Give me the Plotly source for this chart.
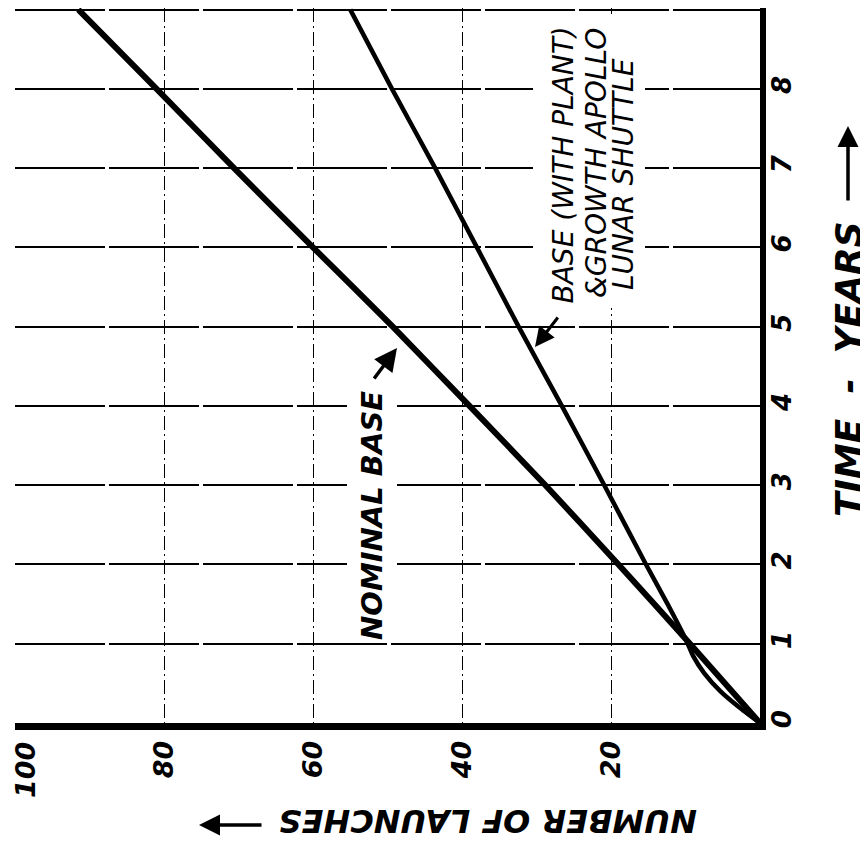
import plotly.graph_objects as go

# ---- data ----
years = [0, 1, 2, 3, 4, 5, 6, 7, 8, 9]
nominal_launches = [0, 9.4, 19, 28.8, 39, 49.3, 60, 70.6, 81, 91.5]

apollo_years = [0, 0.2, 0.4, 0.63, 0.85, 1.0, 1.14, 1.5, 2, 3, 4, 5, 6, 7, 8, 9]
apollo_launches = [0, 2.8, 5.3, 7.5, 9.0, 9.7, 10.4, 12.4, 15.3, 20.9, 26.6, 32.4, 38, 43.6, 49.4, 55]

launch_ticks = [20, 40, 60, 80]
launch_tick_labels = ["20", "40", "60", "80"]
edge_launch_label = "100"
year_ticks = [0, 1, 2, 3, 4, 5, 6, 7, 8, 9]
year_tick_labels = ["0", "1", "2", "3", "4", "5", "6", "7", "8", "9"]

FONT = "DejaVu Sans"

# page-pixel geometry of the plotting area (browser body margin is 8px)
W, H = 860, 839
L_PX, R_PX, T_PX, B_PX = 15, 760, 8, 723
X_RANGE = [100, 0]
Y_RANGE = [0, 9.02]
PPX = (R_PX - L_PX) / (X_RANGE[0] - X_RANGE[1])
PPY = (B_PX - T_PX) / (Y_RANGE[1] - Y_RANGE[0])


def dx(px):
    return (R_PX - px) / PPX


def dy(py):
    return (B_PX - py) / PPY


def pxp(px):
    return (px - L_PX) / (R_PX - L_PX)


def pyp(py):
    return (B_PX - py) / (B_PX - T_PX)


fig = go.Figure()

fig.add_trace(go.Scatter(
    x=nominal_launches, y=years, mode="lines",
    line=dict(color="black", width=6, shape="spline", smoothing=0.4),
    name="Nominal base", showlegend=False,
))
fig.add_trace(go.Scatter(
    x=apollo_launches, y=apollo_years, mode="lines",
    line=dict(color="black", width=4.5, shape="spline", smoothing=0.5),
    name="Base (with plant) & growth Apollo lunar shuttle", showlegend=False,
))

# white patches behind the hand lettering (gridlines are interrupted there)
fig.add_shape(type="rect", xref="x", yref="y", x0=dx(533), x1=dx(645), y0=dy(308), y1=dy(14),
              fillcolor="white", line=dict(width=0), layer="between")
fig.add_shape(type="rect", xref="x", yref="y", x0=dx(347), x1=dx(397), y0=dy(640), y1=dy(385),
              fillcolor="white", line=dict(width=0), layer="between")

annotations = []

# NOMINAL BASE label + arrow
annotations.append(dict(
    x=pxp(372), y=pyp(516), xref="paper", yref="paper", xanchor="center", yanchor="middle",
    text="<b><i>NOMINAL BASE</i></b>",
    textangle=-90, showarrow=False, font=dict(family=FONT, size=29, color="black"),
))
annotations.append(dict(
    x=dx(397), y=dy(348), xref="x", yref="y", ax=dx(373), ay=dy(380), axref="x", ayref="y",
    text="", showarrow=True, arrowhead=2, arrowsize=1.3, arrowwidth=3.5, arrowcolor="black",
))

# Apollo label (three hand-lettered lines) + arrow
apollo_lines = [
    ("BASE (WITH PLANT)", 563, 306),
    ("&GROWTH APOLLO", 596, 300),
    ("LUNAR SHUTTLE", 623, 292),
]
for txt, px, pbottom in apollo_lines:
    annotations.append(dict(
        x=pxp(px), y=pyp(pbottom), xref="paper", yref="paper",
        text="<i>" + txt + "</i>", textangle=-90, showarrow=False,
        xanchor="center", yanchor="bottom",
        font=dict(family=FONT, size=28, color="black"),
    ))
annotations.append(dict(
    x=dx(535), y=dy(347), xref="x", yref="y", ax=dx(559), ay=dy(316), axref="x", ayref="y",
    text="", showarrow=True, arrowhead=2, arrowsize=1.3, arrowwidth=3, arrowcolor="black",
))

# tick label at the left edge of the launches axis
annotations.append(dict(
    x=pxp(25), y=pyp(740), xref="paper", yref="paper", text="<b><i>" + edge_launch_label + "</i></b>",
    textangle=-90, showarrow=False, xanchor="center", yanchor="top",
    font=dict(family=FONT, size=27, color="black"),
))

# axis titles (hand lettered, rotated with the page)
annotations.append(dict(
    x=pxp(848), y=pyp(369), xref="paper", yref="paper", xanchor="center", yanchor="middle",
    text="<b><i>TIME\u00a0\u00a0-\u00a0\u00a0YEARS</i></b>", textangle=-90, showarrow=False,
    font=dict(family=FONT, size=36, color="black"),
))
annotations.append(dict(
    x=pxp(848), y=pyp(126), xref="paper", yref="paper", ax=0, ay=76,
    text="", showarrow=True, arrowhead=2, arrowsize=1.2, arrowwidth=3.5, arrowcolor="black",
))
annotations.append(dict(
    x=pxp(488), y=pyp(821), xref="paper", yref="paper", xanchor="center", yanchor="middle",
    text="<b><i>NUMBER OF LAUNCHES</i></b>", textangle=180, showarrow=False,
    font=dict(family=FONT, size=32, color="black"),
))
annotations.append(dict(
    x=pxp(199), y=pyp(825), xref="paper", yref="paper", ax=64, ay=0,
    text="", showarrow=True, arrowhead=2, arrowsize=1.2, arrowwidth=3.5, arrowcolor="black",
))

fig.update_layout(
    width=W, height=H,
    margin=dict(l=L_PX - 8, r=(W + 8) - R_PX, t=T_PX - 8, b=(H + 8) - B_PX, autoexpand=False),
    paper_bgcolor="white", plot_bgcolor="white",
    annotations=annotations,
    showlegend=False,
)

fig.update_xaxes(
    range=X_RANGE, tickmode="array", tickvals=launch_ticks,
    ticktext=["<b><i>" + t + "</i></b>" for t in launch_tick_labels],
    tickangle=-90, tickfont=dict(family=FONT, size=27, color="black"),
    ticks="", ticklabelstandoff=0,
    showgrid=True, gridcolor="black", gridwidth=1.2, griddash="14px,4px,2px,4px",
    showline=True, linecolor="black", linewidth=7, zeroline=False,
)
fig.update_yaxes(
    range=Y_RANGE, side="right", tickmode="array", tickvals=year_ticks,
    ticktext=["<b><i>" + t + "</i></b>" for t in year_tick_labels],
    tickangle=-90, tickfont=dict(family=FONT, size=26, color="black"),
    ticks="", ticklabelstandoff=-6,
    showgrid=True, gridcolor="black", gridwidth=1.6, griddash="90px,4px",
    showline=True, linecolor="black", linewidth=6, zeroline=False,
)

fig.write_html("out.html")
